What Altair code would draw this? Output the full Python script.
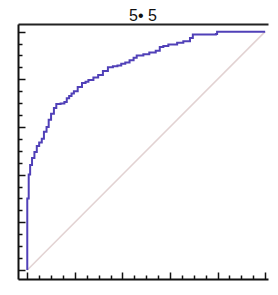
import altair as alt
import pandas as pd

title_text = "5\u2022 5"

fpr = [0.000, 0.000, 0.006, 0.012, 0.020, 0.030, 0.040, 0.050, 0.061, 0.070,
       0.081, 0.090, 0.100, 0.112, 0.122, 0.140, 0.156, 0.166, 0.176, 0.186,
       0.196, 0.212, 0.230, 0.245, 0.257, 0.278, 0.298, 0.318, 0.339, 0.360,
       0.379, 0.395, 0.412, 0.430, 0.447, 0.460, 0.488, 0.513, 0.540, 0.557,
       0.572, 0.593, 0.630, 0.656, 0.684, 0.696, 0.793, 0.798, 1.000]
tpr = [0.000, 0.300, 0.400, 0.440, 0.470, 0.495, 0.520, 0.535, 0.550, 0.580,
       0.600, 0.630, 0.655, 0.680, 0.696, 0.698, 0.705, 0.720, 0.730, 0.740,
       0.750, 0.768, 0.784, 0.790, 0.797, 0.808, 0.818, 0.835, 0.850, 0.855,
       0.858, 0.865, 0.870, 0.880, 0.890, 0.900, 0.905, 0.912, 0.920, 0.935,
       0.940, 0.946, 0.953, 0.960, 0.973, 0.988, 0.990, 1.000, 1.000]

diag_x = [0.0, 1.0]
diag_y = [0.0, 1.0]

tick_values = [0.0, 0.05, 0.1, 0.15, 0.2, 0.25, 0.3, 0.35, 0.4, 0.45, 0.5,
               0.55, 0.6, 0.65, 0.7, 0.75, 0.8, 0.85, 0.9, 0.95, 1.0]

x_scale = alt.Scale(domain=[-0.039, 1.012], nice=False, zero=False)
y_scale = alt.Scale(domain=[-0.038, 1.032], nice=False, zero=False)

major = "abs(datum.value*5 - round(datum.value*5)) < 0.001"
tick_size = {"condition": {"test": major, "value": 7}, "value": 4}

axis_common = dict(values=tick_values, labels=False, title=None, grid=False,
                   domainColor="#111111", domainWidth=2, tickColor="#111111",
                   tickWidth=1.5, tickSize=tick_size)

roc_df = pd.DataFrame({"fpr": fpr, "tpr": tpr, "order": list(range(len(fpr)))})
diag_df = pd.DataFrame({"x": diag_x, "y": diag_y})

roc = alt.Chart(roc_df).mark_line(
    interpolate="step-after", color="#5040B8", strokeWidth=2
).encode(
    x=alt.X("fpr:Q", scale=x_scale,
            axis=alt.Axis(orient="top", offset=alt.ExprRef("-height"), **axis_common)),
    y=alt.Y("tpr:Q", scale=y_scale,
            axis=alt.Axis(orient="right", offset=alt.ExprRef("-width"), **axis_common)),
    order="order:Q",
)

diag = alt.Chart(diag_df).mark_line(color="#e2d2d2", strokeWidth=1.5).encode(
    x=alt.X("x:Q", scale=x_scale,
            axis=alt.Axis(orient="top", ticks=False, labels=False, title=None,
                          grid=False, domainColor="#222222", domainWidth=2)),
    y=alt.Y("y:Q", scale=y_scale, axis=None),
)

chart = alt.layer(diag, roc).resolve_axis(x="independent", y="independent").properties(
    width=262, height=274,
    title=alt.Title(title_text, fontSize=16, fontWeight="normal", color="#111111",
                    font="Liberation Sans", anchor="middle", offset=0),
    padding={"left": 9, "top": 0, "right": 0, "bottom": 2},
    autosize=alt.AutoSizeParams(type="fit", contains="padding"),
    background="white",
).configure_view(stroke=None)

chart.save("out.html", embed_options={"renderer": "svg", "actions": False})
